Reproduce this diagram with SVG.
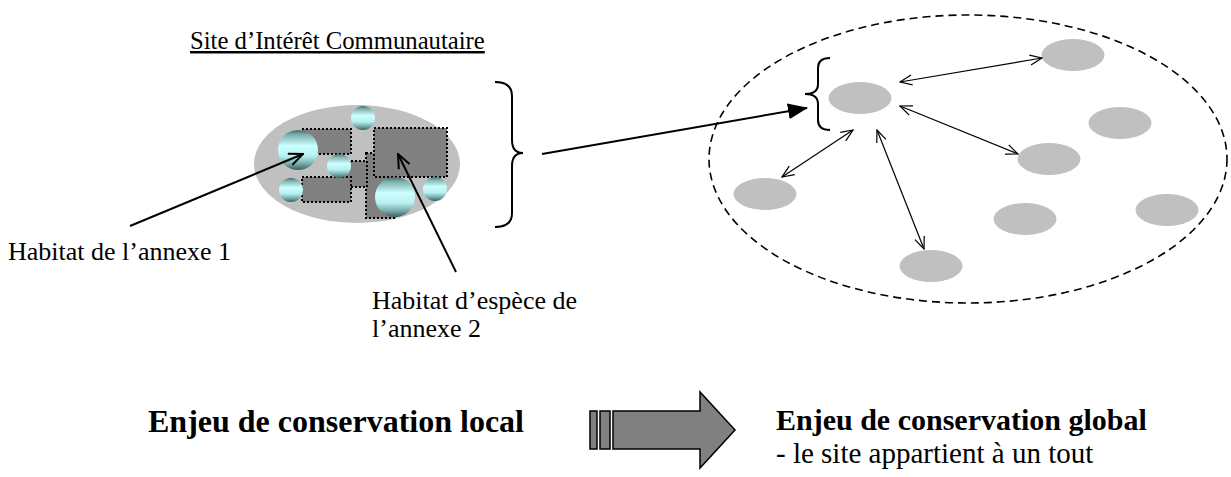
<svg xmlns="http://www.w3.org/2000/svg" width="1231" height="477" viewBox="0 0 1231 477">
<defs>
<style>
.txt{font-family:"Liberation Serif","Times New Roman",serif;fill:#000}
.reg{font-size:26px}
.bold{font-weight:bold}
.patch{fill:#c0c0c0;stroke:none}
.hab{fill:#808080;stroke:#000;stroke-width:2;stroke-dasharray:2 2}
.sph{fill:url(#sphG)}
.thin{fill:none;stroke:#000;stroke-width:1.2;marker-start:url(#openV);marker-end:url(#openV)}
.lbl{fill:none;stroke:#000;stroke-width:2;marker-end:url(#openV2)}
.brace{fill:none;stroke:#000;stroke-width:2}
</style>
<linearGradient id="sphG" x1="0" y1="0" x2="0" y2="1">
<stop offset="0" stop-color="#3f6a6a"/>
<stop offset="0.12" stop-color="#7fb0b0"/>
<stop offset="0.4" stop-color="#ccffff"/>
<stop offset="0.65" stop-color="#b8f0f0"/>
<stop offset="0.85" stop-color="#78a8a8"/>
<stop offset="1" stop-color="#3a5f5f"/>
</linearGradient>
<marker id="openV" viewBox="0 0 14 12" refX="13" refY="6" markerWidth="14" markerHeight="12" markerUnits="userSpaceOnUse" orient="auto-start-reverse">
<path d="M1,1 L13,6 L1,11" fill="none" stroke="#000" stroke-width="1.2"/>
</marker>
<marker id="openV2" viewBox="0 0 16 14" refX="15" refY="7" markerWidth="16" markerHeight="14" markerUnits="userSpaceOnUse" orient="auto">
<path d="M1,1 L15,7 L1,13" fill="none" stroke="#000" stroke-width="2"/>
</marker>
<marker id="solid" viewBox="0 0 20 16" refX="19" refY="8" markerWidth="20" markerHeight="16" markerUnits="userSpaceOnUse" orient="auto">
<path d="M0,0 L20,8 L0,16 Z" fill="#000"/>
</marker>
</defs>
<rect width="1231" height="477" fill="#fff"/>

<g id="title">
<text class="txt" x="190" y="49" font-size="24.7" text-decoration="underline">Site d’Intérêt Communautaire</text>
</g>

<g id="site-local">
<ellipse class="patch" cx="357" cy="164" rx="103" ry="59"/>
<rect class="hab" x="366" y="153" width="30" height="65"/>
<rect class="hab" x="335" y="161" width="32" height="26"/>
<rect class="hab" x="302" y="129" width="49" height="25"/>
<rect class="hab" x="302" y="177" width="49" height="25"/>
<rect class="hab" x="374" y="128" width="73" height="49"/>
<circle class="sph" cx="363" cy="118" r="12"/>
<circle class="sph" cx="298" cy="150" r="20"/>
<circle class="sph" cx="339" cy="166" r="12"/>
<circle class="sph" cx="291" cy="190" r="12"/>
<circle class="sph" cx="395" cy="197" r="20"/>
<circle class="sph" cx="435" cy="189" r="12"/>
</g>

<g id="label-annexe1">
<text class="txt reg" x="8" y="260">Habitat de l’annexe 1</text>
</g>
<g id="label-annexe2">
<text class="txt reg" x="372" y="309">Habitat d’espèce de</text>
<text class="txt reg" x="372" y="337">l’annexe 2</text>
</g>

<g id="brace-left">
<path class="brace" d="M495,82 Q512,82 512,96 L512,140 Q512,153 523,153 Q512,153 512,166 L512,213 Q512,227 495,227"/>
</g>

<g id="network">
<ellipse cx="968" cy="159" rx="259" ry="144" fill="none" stroke="#000" stroke-width="1.6" stroke-dasharray="8 5"/>
<path class="brace" d="M830,58 Q818,58 818,68 L818,84 Q818,94 805,94 Q818,94 818,104 L818,120 Q818,130 830,130"/>
</g>
<g id="node-main"><ellipse class="patch" cx="860" cy="98" rx="31.5" ry="16"/></g>
<g id="node-2"><ellipse class="patch" cx="1073" cy="55" rx="31.5" ry="16"/></g>
<g id="node-3"><ellipse class="patch" cx="1120" cy="123" rx="31.5" ry="16"/></g>
<g id="node-4"><ellipse class="patch" cx="1049" cy="159" rx="31.5" ry="16"/></g>
<g id="node-5"><ellipse class="patch" cx="765" cy="194" rx="31.5" ry="16"/></g>
<g id="node-6"><ellipse class="patch" cx="1025" cy="219" rx="31.5" ry="16"/></g>
<g id="node-7"><ellipse class="patch" cx="1167" cy="210" rx="31.5" ry="16"/></g>
<g id="node-8"><ellipse class="patch" cx="931" cy="266" rx="31.5" ry="16"/></g>

<g id="connectors">
<line class="lbl" x1="130" y1="226" x2="303" y2="154"/>
<line class="lbl" x1="456" y1="272" x2="398" y2="154"/>
<line x1="542" y1="154" x2="807" y2="108" stroke="#000" stroke-width="2" marker-end="url(#solid)"/>
<line class="thin" x1="900" y1="82" x2="1042" y2="58"/>
<line class="thin" x1="900" y1="106" x2="1018" y2="154"/>
<line class="thin" x1="853" y1="130" x2="782" y2="177"/>
<line class="thin" x1="877" y1="130" x2="924" y2="249"/>
</g>

<g id="bottom-local">
<text class="txt bold" x="148" y="432" font-size="32">Enjeu de conservation local</text>
</g>
<g id="big-arrow">
<rect x="590" y="411" width="7" height="38" fill="#808080" stroke="#000" stroke-width="1.5"/>
<rect x="600" y="411" width="10" height="38" fill="#808080" stroke="#000" stroke-width="1.5"/>
<path d="M613,411 L700,411 L700,392 L735,430 L700,468 L700,449 L613,449 Z" fill="#808080" stroke="#000" stroke-width="1.5" stroke-linejoin="miter"/>
</g>
<g id="bottom-global">
<text class="txt bold" x="776" y="430" font-size="30">Enjeu de conservation global</text>
<text class="txt" x="776" y="463" font-size="29">- le site appartient à un tout</text>
</g>
</svg>
